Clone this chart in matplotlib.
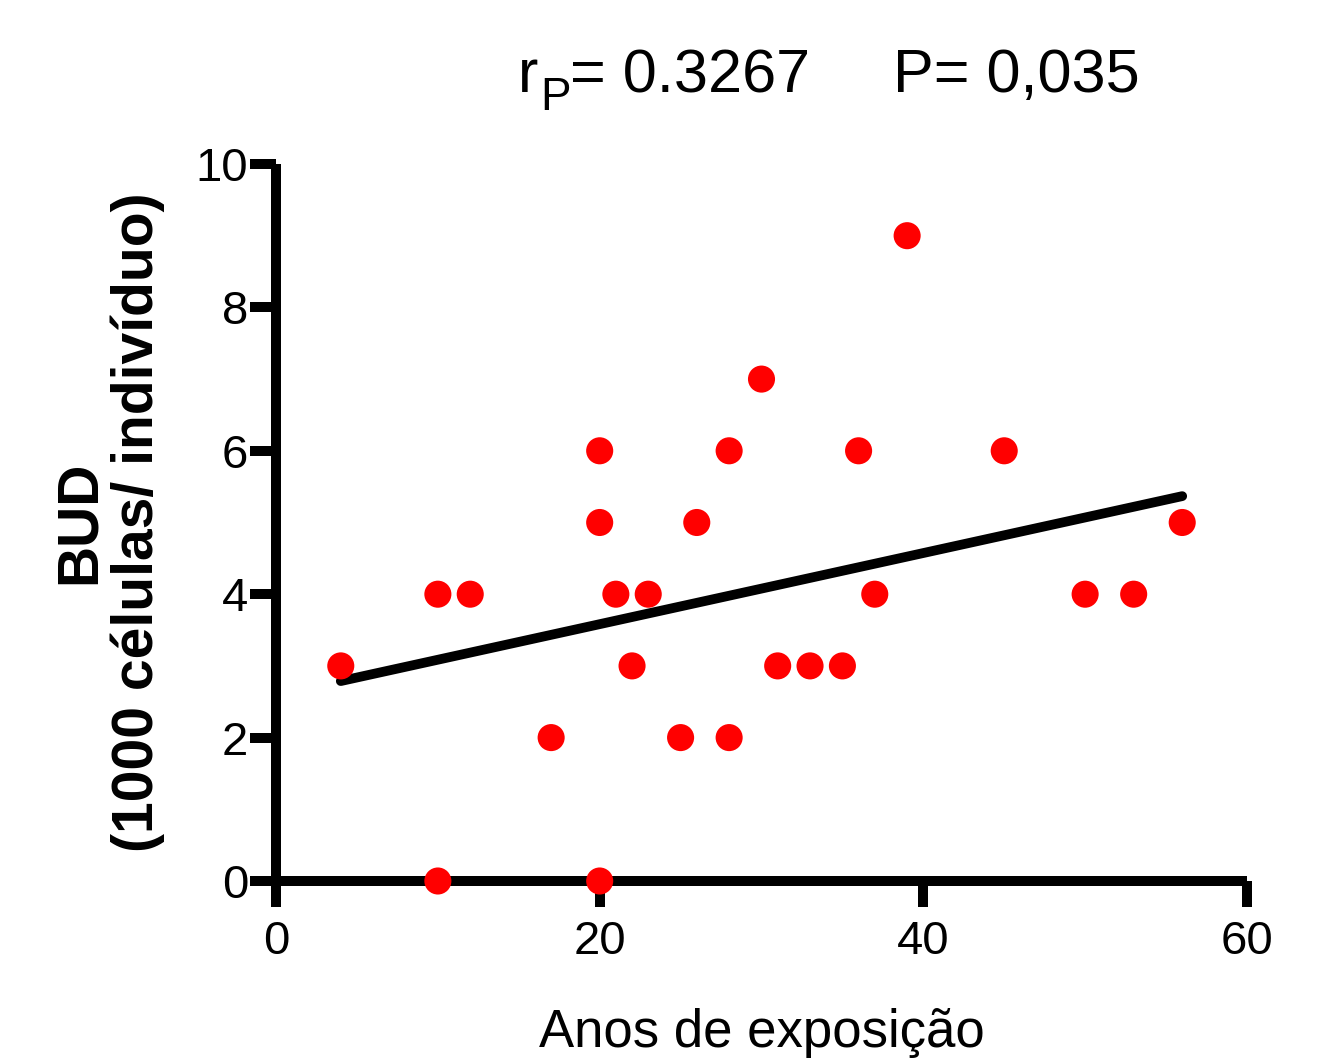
import matplotlib
matplotlib.use("Agg")
import matplotlib.pyplot as plt
import numpy as np

plt.rcParams['font.family'] = ['Liberation Sans', 'DejaVu Sans']

# anos de exposicao x BUD
anos = [4, 10, 10, 12, 17, 20, 20, 20, 21, 22, 23, 25, 26, 28, 28,
        30, 31, 33, 35, 36, 37, 39, 45, 50, 53, 56]
bud = [3, 4, 0, 4, 2, 6, 5, 0, 4, 3, 4, 2, 5, 6, 2,
       7, 3, 3, 3, 6, 4, 9, 6, 4, 4, 5]

# regressao linear
fit_slope = 0.0496
fit_intercept = 2.59
fit_x = [4, 56]

x_ticks = [0, 20, 40, 60]
y_ticks = [0, 2, 4, 6, 8, 10]

fig = plt.figure(figsize=(13.24, 10.58), dpi=100)
ax = fig.add_axes([0.2085, 0.1673, 0.7333, 0.6777])

fx = np.array(fit_x)
ax.plot(fx, fit_intercept + fit_slope * fx, color='black', lw=7,
        solid_capstyle='round', zorder=3)
ax.scatter(anos, bud, s=380, color='#ff0000', edgecolors='none',
           zorder=5, clip_on=False)

ax.set_xlim(0, 60)
ax.set_ylim(0, 10)
ax.set_xticks(x_ticks)
ax.set_yticks(y_ticks)

for side in ['top', 'right']:
    ax.spines[side].set_visible(False)
for side in ['left', 'bottom']:
    ax.spines[side].set_linewidth(7.2)
    ax.spines[side].set_capstyle('butt')

ax.tick_params(axis='both', width=7.2, length=19, direction='out',
               labelsize=34)
ax.tick_params(axis='y', pad=1)
ax.tick_params(axis='x', pad=9)

ax.set_xlabel('Anos de exposição', fontsize=38, labelpad=32)
ax.set_ylabel('BUD\n(1000 células/ indivíduo)', fontsize=41,
              fontweight='bold', labelpad=22, linespacing=1.08)

# titulo: r com subscrito P, depois o valor de P
fig.text(0.391, 0.913, 'r', fontsize=44, va='baseline')
fig.text(0.408, 0.896, 'P', fontsize=33, va='baseline')
fig.text(0.4305, 0.913, '= 0.3267', fontsize=44, va='baseline')
fig.text(0.6745, 0.913, 'P= 0,035', fontsize=44, va='baseline')

fig.savefig('out.png', dpi=100)
